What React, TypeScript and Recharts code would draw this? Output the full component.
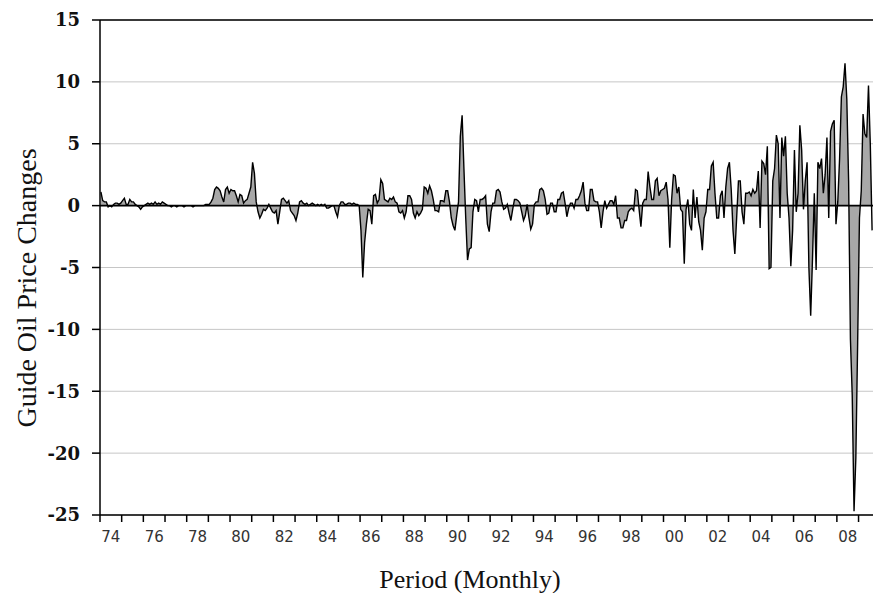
import { AreaChart, Area, XAxis, YAxis, CartesianGrid, ReferenceLine } from "recharts";

// monthly changes, Jan 1974 onward
const months1970s = [
  1.1, 0.4, 0.3, 0.3, -0.1, 0.0, -0.1, 0.1, 0.2, 0.2, 0.1, 0.2,
  0.4, 0.6, 0.1, 0.1, 0.5, 0.3, 0.3, 0.1, 0.0, -0.1, -0.3, -0.1,
  0.0, 0.1, 0.2, 0.1, 0.2, 0.1, 0.3, 0.1, 0.2, 0.1, 0.3, 0.2,
  0.1, 0.0, 0.0, -0.1, 0.0, 0.0, -0.1, 0.0, 0.0, 0.0, -0.1, 0.0,
  0.0, 0.0, 0.0, -0.1, 0.0, 0.0, 0.0, 0.0, 0.0, 0.0, 0.1, 0.1,
  0.1, 0.3, 0.6, 1.3, 1.5, 1.4, 1.2, 0.7, 0.3, 1.3, 1.5, 1.0,
];

const months1980s = [
  1.3, 1.2, 1.2, 0.8, 0.3, 0.9, 0.8, 0.2, 0.4, 0.5, 1.0, 1.5,
  3.5, 2.6, 0.3, -0.5, -1.0, -0.7, -0.3, -0.4, -0.2, 0.1, -0.2, -0.5,
  -0.6, -0.4, -1.5, -0.5, 0.5, 0.6, 0.4, 0.2, 0.4, -0.4, -0.6, -0.8,
  -1.2, -0.6, 0.3, 0.4, 0.2, 0.1, 0.2, 0.0, 0.1, 0.2, 0.1, 0.0,
  0.1, 0.0, 0.1, 0.0, 0.1, -0.2, -0.2, -0.1, 0.0, 0.0, -0.5, -0.9,
  0.0, 0.3, 0.3, 0.1, 0.1, 0.2, 0.2, 0.1, 0.2, 0.1, 0.1, 0.0,
  -2.0, -5.8, -3.0, -1.5, -0.3, -0.4, -1.5, 0.8, 0.9, 0.2, 0.5, 2.1,
  1.8, 0.5, 0.4, 0.3, 0.6, 0.5, 0.7, 0.3, 0.2, -0.5, -0.6, -0.4,
  -1.0, -0.5, 0.8, 0.8, 0.5, -0.6, -1.0, -0.5, -0.8, -0.6, -0.3, 1.5,
  1.4, 1.0, 1.6, 1.2, 0.5, -0.4, -0.4, -0.5, 0.4, 0.4, 0.3, 1.2,
];

const months1990s = [
  1.2, 0.3, -1.0, -1.6, -2.0, -0.8, 0.3, 5.6, 7.3, 3.0, -1.0, -4.4,
  -3.5, -3.4, -0.5, 0.5, 0.4, -0.5, 0.5, 0.5, 0.6, 0.8, -1.5, -2.1,
  -0.5, 0.2, 0.2, 1.2, 1.3, 1.1, 0.3, -0.3, -0.2, 0.1, -0.6, -1.2,
  -0.3, 0.5, 0.5, 0.4, 0.2, -0.5, -1.2, -0.8, 0.1, -1.0, -1.9, -1.5,
  0.1, 0.3, 0.3, 1.3, 1.4, 1.2, 0.5, -0.7, -0.6, 0.2, 0.2, -0.5,
  -0.5, 0.5, 0.5, 1.0, 1.1, 0.2, -0.9, -0.2, 0.2, 0.2, -0.2, 0.5,
  0.5, 0.8, 1.2, 1.9, 0.2, -0.4, -0.4, 1.3, 1.3, 0.4, 0.3, 0.3,
  -0.5, -1.8, -0.5, 0.4, -0.2, 0.1, 0.4, 0.4, 0.1, 0.8, -1.0, -1.0,
  -1.8, -1.8, -1.2, -1.2, -0.5, -0.3, -0.2, -0.4, 1.3, 1.2, -0.3, -1.7,
  0.2, 0.5, 0.5, 2.75, 1.5, 0.5, 0.5, 2.0, 2.2, 0.8, 1.2, 1.3,
];

const months2000s = [
  1.4, 1.9, 0.5, -3.4, 0.5, 2.5, 2.4, 1.0, 1.5, -0.3, -0.5, -4.7,
  -0.3, 0.5, -1.5, -2.0, 1.3, -1.0, 0.7, -1.3, -2.0, -3.6, -1.0, -0.5,
  1.3, 1.3, 3.2, 3.5, 1.0, -1.0, -1.0, 0.8, 1.2, -1.0, 1.5, 3.0,
  3.5, 1.3, -2.0, -3.9, -1.0, 2.0, 2.0, -0.5, -1.5, 1.0, 1.0, 1.1,
  0.8, 1.3, 1.0, 1.2, 2.8, -1.8, 3.6, 3.4, 2.5, 4.8, -5.1, -5.0,
  2.0, 3.0, 5.7, 5.0, -1.0, 5.5, 4.0, 5.6, 1.0, -1.0, -4.9, -2.0,
  4.5, -0.5, 1.0, 6.5, 4.5, -0.3, 2.0, 3.5, -5.0, -8.9, -4.3, 1.0,
  -5.2, 3.5, 3.0, 3.8, 1.0, 2.5, 5.5, -1.0, 6.0, 6.6, 6.9, -1.5,
  0.3, 3.8, 8.8, 9.6, 11.5, 8.6, 2.0, -10.8, -15.3, -24.7, -20.4, -11.1,
  -1.0, 1.2, 7.4, 5.8, 5.5, 9.7, 5.0, -2.0,
];

const startYear = 1974;
const monthSpan = 428;
const yTicks = [-25, -20, -15, -10, -5, 0, 5, 10, 15];

const series = [...months1970s, ...months1980s, ...months1990s, ...months2000s];
const data = series.map((v, i) => ({ t: i + 0.5, change: v }));

// year boundaries get a tick mark, every other mid-year gets a label
const xTicks: number[] = [];
for (let y = 0; y * 12 <= monthSpan; y++) {
  xTicks.push(y * 12);
  if (y % 2 === 0 && y * 12 + 6 < monthSpan) xTicks.push(y * 12 + 6);
}

function PeriodTick(props: any) {
  const { x, y, payload } = props;
  const v = payload.value;
  if (v % 12 === 0) {
    return <line x1={x} x2={x} y1={y} y2={y + 7} stroke="#000" strokeWidth={1.5} />;
  }
  const label = String(startYear + Math.floor(v / 12)).slice(2);
  return (
    <text x={x} y={y + 27} textAnchor="middle" fontFamily="DejaVu Sans" fontSize={15} fill="#333">
      {label}
    </text>
  );
}

export default function App() {
  return (
    <div style={{ position: "relative", width: 873, height: 593, background: "#fff" }}>
      <style>{`body{margin:0}`}</style>
      <AreaChart width={873} height={593} data={data} margin={{ top: 20, right: 0, bottom: 0, left: 0 }}>
        <CartesianGrid vertical={false} stroke="#c6c6c6" />
        <XAxis
          type="number"
          dataKey="t"
          domain={[0, monthSpan]}
          ticks={xTicks}
          interval={0}
          height={78}
          tickSize={0}
          tickMargin={0}
          tickLine={false}
          axisLine={{ stroke: "#000", strokeWidth: 1.5 }}
          tick={<PeriodTick />}
        />
        <YAxis
          type="number"
          domain={[-25, 15]}
          ticks={yTicks}
          interval={0}
          width={100}
          tickSize={8}
          tickMargin={12}
          tickLine={{ stroke: "#000", strokeWidth: 1.5 }}
          axisLine={{ stroke: "#000", strokeWidth: 1.5 }}
          tick={{ fill: "#111", fontFamily: "DejaVu Serif", fontWeight: "bold", fontSize: 18 }}
        />
        <Area
          type="linear"
          dataKey="change"
          baseValue={0}
          stroke="#000"
          strokeWidth={1.4}
          fill="#a8a8a8"
          fillOpacity={1}
          dot={false}
          activeDot={false}
          isAnimationActive={false}
        />
        <ReferenceLine y={0} stroke="#000" strokeWidth={1.6} />
        <ReferenceLine y={15} stroke="#000" strokeWidth={1.5} />
      </AreaChart>
      <div
        style={{
          position: "absolute",
          left: 27,
          top: 288,
          transform: "translate(-50%, -50%) rotate(-90deg)",
          whiteSpace: "nowrap",
          fontFamily: "Liberation Serif",
          fontSize: 28,
          lineHeight: 1,
          color: "#111",
        }}
      >
        Guide Oil Price Changes
      </div>
      <div
        style={{
          position: "absolute",
          left: 470,
          top: 567,
          transform: "translateX(-50%)",
          whiteSpace: "nowrap",
          fontFamily: "Liberation Serif",
          fontSize: 26,
          lineHeight: 1,
          color: "#111",
        }}
      >
        Period (Monthly)
      </div>
    </div>
  );
}
